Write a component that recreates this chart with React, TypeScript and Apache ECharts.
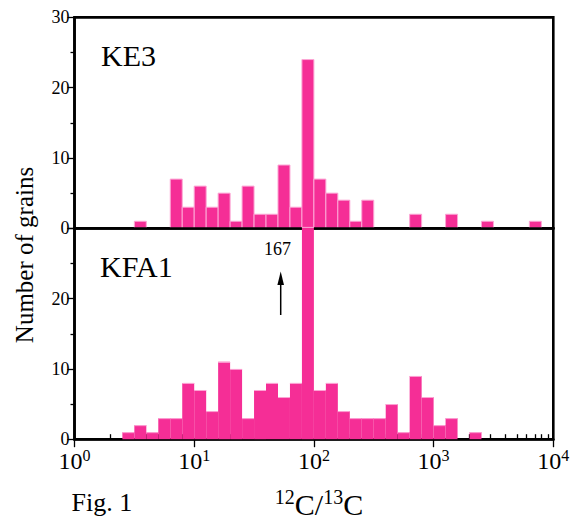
import React, { useEffect, useRef } from 'react';
import * as echarts from 'echarts';

// Histogram bins: 0.1 dex wide, from 10^0 to 10^4 (bin i spans 10^(0.1 i) .. 10^(0.1 (i+1)))
const BIN_WIDTH_DEX = 0.1;
const X_MIN = 1;
const X_MAX = 10000;

// Number of grains per bin
const KE3_COUNTS = [
  0, 0, 0, 0, 0, 1, 0, 0, 7, 3,
  6, 3, 5, 1, 6, 2, 2, 9, 3, 24,
  7, 5, 4, 1, 4, 0, 0, 0, 2, 0,
  0, 2, 0, 0, 1, 0, 0, 0, 1, 0,
];
const KFA1_COUNTS = [
  0, 0, 0, 0, 1, 2, 1, 3, 3, 8,
  7, 4, 11, 10, 3, 7, 8, 6, 8, 167,
  7, 8, 4, 3, 3, 3, 5, 1, 9, 6,
  2, 3, 0, 1, 0, 0, 0, 0, 0, 0,
];

const Y_MAX = 30;
const Y_INTERVAL = 10;
const MINOR_TICK_MULTIPLIERS = [2, 3, 4, 5, 6, 7, 8, 9];
const DECADES = [1, 10, 100, 1000];

const FONT = "'Liberation Serif', 'Times New Roman', serif";
const PINK = '#f52e96';
const PINK_EDGE = '#fca6d5';
const LW = 2.6;

const toBins = (counts: number[]) =>
  counts
    .map((c, i) => [Math.pow(10, i * BIN_WIDTH_DEX), Math.pow(10, (i + 1) * BIN_WIDTH_DEX), c])
    .filter((d) => d[2] > 0);

const minorTicks: number[] = [];
DECADES.forEach((d) => MINOR_TICK_MULTIPLIERS.forEach((m) => minorTicks.push(d * m)));

const measure = (text: string, size: number) => {
  const ctx = document.createElement('canvas').getContext('2d');
  if (!ctx) return text.length * size * 0.5;
  ctx.font = `${size}px ${FONT}`;
  return ctx.measureText(text).width;
};

// Builds "12C/13C" as side-by-side texts (superscripts smaller, raised)
const isotopeTitle = (cx: number, cy: number) => {
  const MAIN = 30;
  const SUP = 20;
  const parts = [
    { t: '12', s: SUP, dy: -8 },
    { t: 'C/', s: MAIN, dy: 0 },
    { t: '13', s: SUP, dy: -8 },
    { t: 'C', s: MAIN, dy: 0 },
  ];
  const widths = parts.map((p) => measure(p.t, p.s));
  const total = widths.reduce((a, b) => a + b, 0);
  let x = cx - total / 2;
  return parts.map((p, i) => {
    const el = {
      type: 'text',
      x,
      y: cy + p.dy,
      style: { text: p.t, fontSize: p.s, fontFamily: FONT, fill: '#000', verticalAlign: 'middle' },
    };
    x += widths[i];
    return el;
  });
};

export default function App() {
  const ref = useRef<HTMLDivElement>(null);
  useEffect(() => {
    if (!ref.current) return;
    const chart = echarts.init(ref.current, undefined, { renderer: 'svg' });

    const renderTop = (params: any, api: any) => {
      const p0 = api.coord([api.value(0), 0]);
      const p1 = api.coord([api.value(1), api.value(2)]);
      return {
        type: 'rect',
        shape: { x: p0[0], y: p1[1], width: p1[0] - p0[0], height: p0[1] - p1[1] },
        style: { fill: PINK, stroke: PINK_EDGE, lineWidth: 1 },
      };
    };
    const renderBottom = (params: any, api: any) => {
      const p0 = api.coord([api.value(0), 0]);
      const p1 = api.coord([api.value(1), api.value(2)]);
      const cs = params.coordSys;
      const top = Math.max(p1[1], cs.y - 1.4);
      return {
        type: 'group',
        children: [
          {
            type: 'rect',
            shape: { x: p0[0], y: top, width: p1[0] - p0[0], height: p0[1] - top },
            style: { fill: PINK },
          },
          {
            type: 'line',
            shape: { x1: p0[0], y1: top + 0.5, x2: p1[0], y2: top + 0.5 },
            style: { stroke: PINK_EDGE, lineWidth: 1 },
          },
        ],
      };
    };

    const yAxis = (gridIndex: number, showTopLabel: boolean) => ({
      gridIndex,
      type: 'value',
      min: 0,
      max: Y_MAX,
      interval: Y_INTERVAL,
      axisLine: { show: true, onZero: false, lineStyle: { color: '#000', width: LW } },
      axisTick: { show: true, length: 7, lineStyle: { color: '#000', width: 1.3 } },
      minorTick: { show: true, splitNumber: 2, length: 4, lineStyle: { color: '#000', width: 1.3 } },
      axisLabel: {
        fontSize: 18,
        fontFamily: FONT,
        color: '#000',
        margin: 5,
        formatter: (v: number) => (!showTopLabel && v === Y_MAX ? '' : String(v)),
      },
      splitLine: { show: false },
      minorSplitLine: { show: false },
    });

    const option: any = {
      animation: false,
      backgroundColor: '#fff',
      grid: [
        { left: 74.5, right: 25.7, top: 17.4, height: 210.9, show: true, borderColor: '#000', borderWidth: LW, backgroundColor: 'transparent' },
        { left: 74.5, right: 25.7, top: 228.3, height: 210.9, show: true, borderColor: '#000', borderWidth: LW, backgroundColor: 'transparent' },
      ],
      xAxis: [
        {
          gridIndex: 0, type: 'log', logBase: 10, min: X_MIN, max: X_MAX, z: 5,
          axisLine: { show: true, onZero: false, lineStyle: { color: '#000', width: LW } },
          axisTick: { show: false }, axisLabel: { show: false }, splitLine: { show: false },
        },
        {
          gridIndex: 1, type: 'log', logBase: 10, min: X_MIN, max: X_MAX,
          axisLine: { show: true, onZero: false, lineStyle: { color: '#000', width: LW } },
          axisTick: { show: true, length: 8, lineStyle: { color: '#000', width: 1.3 } },
          axisLabel: {
            margin: 8,
            color: '#000',
            formatter: (v: number) => `{b|10}{s|${Math.round(Math.log10(v))}}`,
            rich: {
              b: { fontSize: 24, fontFamily: FONT, color: '#000', verticalAlign: 'bottom' },
              s: { fontSize: 16, fontFamily: FONT, color: '#000', verticalAlign: 'bottom', padding: [0, 0, 10, 0] },
            },
          },
          splitLine: { show: false },
        },
        {
          gridIndex: 1, type: 'log', logBase: 10, min: X_MIN, max: X_MAX,
          axisLine: { show: false },
          axisTick: { show: true, length: 5, customValues: minorTicks, lineStyle: { color: '#000', width: 1.3 } },
          axisLabel: { show: false }, splitLine: { show: false },
        },
      ],
      yAxis: [yAxis(0, true), yAxis(1, false)],
      series: [
        {
          type: 'custom', name: 'KE3', xAxisIndex: 0, yAxisIndex: 0, z: 2,
          data: toBins(KE3_COUNTS), encode: { x: [0, 1], y: 2 }, renderItem: renderTop,
        },
        {
          type: 'custom', name: 'KFA1', xAxisIndex: 1, yAxisIndex: 1, z: 6, clip: false,
          data: toBins(KFA1_COUNTS), encode: { x: [0, 1], y: 2 }, renderItem: renderBottom,
        },
      ],
      graphic: [
        { type: 'text', x: 101, y: 55, style: { text: 'KE3', fontSize: 30, fontFamily: FONT, fill: '#000', verticalAlign: 'middle' } },
        { type: 'text', x: 100, y: 266, style: { text: 'KFA1', fontSize: 30, fontFamily: FONT, fill: '#000', verticalAlign: 'middle' } },
        { type: 'text', x: 277.5, y: 249, style: { text: '167', fontSize: 18, fontFamily: FONT, fill: '#000', align: 'center', verticalAlign: 'middle' } },
        { type: 'line', shape: { x1: 280.7, y1: 315, x2: 280.7, y2: 282 }, style: { stroke: '#000', lineWidth: 1.5 } },
        { type: 'polygon', shape: { points: [[280.7, 271.5], [277.4, 285], [284, 285]] }, style: { fill: '#000' } },
        { type: 'text', x: 24, y: 255, rotation: Math.PI / 2, style: { text: 'Number of grains', fontSize: 25, fontFamily: FONT, fill: '#000', align: 'center', verticalAlign: 'middle' } },
        { type: 'text', x: 71.5, y: 502.5, style: { text: 'Fig. 1', fontSize: 26, fontFamily: FONT, fill: '#000', verticalAlign: 'middle' } },
        ...isotopeTitle(319, 504.5),
      ],
    };
    chart.setOption(option);
    return () => chart.dispose();
  }, []);
  return <div ref={ref} style={{ position: 'fixed', left: 0, top: 0, width: 579, height: 521, background: '#fff' }} />;
}
